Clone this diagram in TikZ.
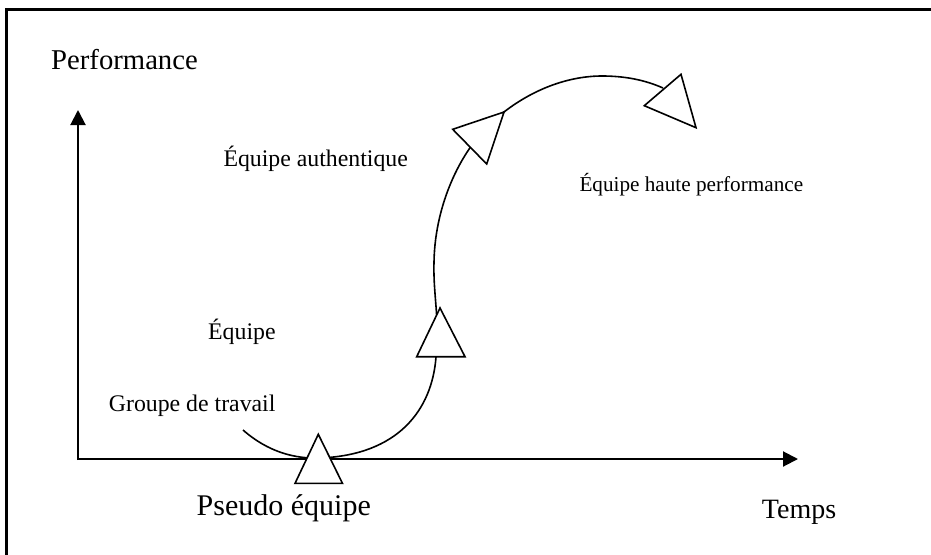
\documentclass[tikz,border=0pt]{standalone}
\usepackage{fontspec}
\setmainfont{Liberation Serif}
\usetikzlibrary{arrows.meta}
\tikzset{
  axe/.style={-{Triangle[length=15pt,width=15pt]}, line width=2pt, black},
  courbe/.style={line width=1.6pt, black},
  jalon/.style={draw=black, fill=white, line width=1.6pt, line join=miter},
  etiq/.style={anchor=base west, inner sep=0pt, text=black},
}

\begin{document}
\begin{tikzpicture}[x=1pt, y=-1pt]
\useasboundingbox (0,0) rectangle (931,554);

%% Frame (only its top and left edges fall inside the page)
\draw[line width=2.5pt] (6.5,9.5) rectangle (945,565);

%% Axes
\coordinate (orig) at (78,460);
\coordinate (ytip) at (78,110);
\coordinate (xtip) at (798,459);
\draw[axe] (orig) -- (ytip);
\draw[axe] (78,459) -- (xtip);

%% Growth curve
\draw[courbe] (243,430) .. controls (268,452) and (295,459) .. (320,458)
  .. controls (398,455) and (432,410) .. (436,357)
  .. controls (440,320) and (433,295) .. (434,262)
  .. controls (435,200) and (465,140) .. (504,112)
  .. controls (535,88) and (570,76) .. (602,76)
  .. controls (625,76) and (645,80) .. (663,88);

%% Milestones (white triangles on top of the curve)
\draw[jalon] (318.3,434.3) -- (342.5,483.4) -- (295,483.4) -- cycle;
\draw[jalon] (440,308) -- (465,356.7) -- (416.7,356.7) -- cycle;
\draw[jalon] (504,112) -- (486.7,164) -- (452.7,129.3) -- cycle;
\draw[jalon] (696,127.7) -- (644.3,105.7) -- (681,74.3) -- cycle;

%% Labels
\node[etiq, font=\fontsize{28.7}{34}\selectfont] (perf) at (51,69.3) {Performance};
\node[etiq, font=\fontsize{28}{34}\selectfont] (temps) at (761.7,518) {Temps};
\node[etiq, font=\fontsize{30}{36}\selectfont] (pseudo) at (196.5,515) {Pseudo équipe};
\node[etiq, font=\fontsize{23.8}{28}\selectfont] (groupe) at (108.7,411.7) {Groupe de travail};
\node[etiq, font=\fontsize{23.8}{28}\selectfont] (equipe) at (208,339) {Équipe};
\node[etiq, font=\fontsize{23.8}{28}\selectfont] (auth) at (223.3,166) {Équipe authentique};
\node[etiq, font=\fontsize{21.2}{26}\selectfont] (haute) at (579.3,191) {Équipe haute performance};

\end{tikzpicture}
\end{document}
